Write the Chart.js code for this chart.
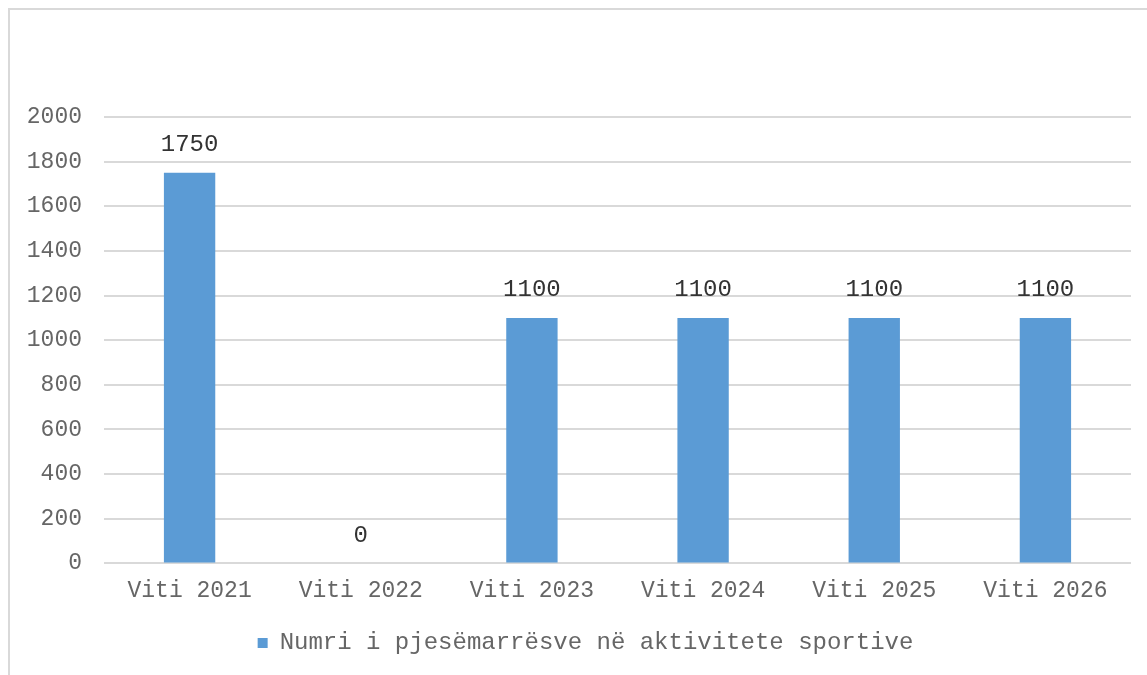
<!DOCTYPE html>
<html>
<head>
<meta charset="utf-8">
<script src="https://cdn.jsdelivr.net/npm/chart.js@4/dist/chart.umd.min.js"></script>
<style>
  html, body { margin: 0; padding: 0; background: #fff; overflow: hidden; }
  #frame { position: absolute; left: 8px; top: 8px; width: 1200px; height: 700px; border: 2px solid #d9d9d9; box-sizing: border-box; }
  #wrap { position: absolute; left: 0; top: 0; width: 1147px; height: 675px; }
</style>
</head>
<body>
<div id="frame"></div>
<div id="wrap"><canvas id="chart"></canvas></div>
<script>
// Data
const years = ["Viti 2021", "Viti 2022", "Viti 2023", "Viti 2024", "Viti 2025", "Viti 2026"];
const participants = [1750, 0, 1100, 1100, 1100, 1100];
const seriesName = "Numri i pjesëmarrësve në aktivitete sportive";

const FONT = "'Liberation Mono', 'Courier New', monospace";

// value labels above each bar
const valueLabels = {
    id: "valueLabels",
    afterDatasetsDraw(chart) {
        const ctx = chart.ctx;
        const meta = chart.getDatasetMeta(0);
        ctx.save();
        ctx.font = "24px " + FONT;
        ctx.fillStyle = "#333333";
        ctx.textAlign = "center";
        ctx.textBaseline = "middle";
        meta.data.forEach((bar, i) => {
            ctx.fillText(String(participants[i]), bar.x, bar.y - 28);
        });
        ctx.restore();
    }
};

// the original frame is wider than the window, so its legend sits a bit right of centre
const shiftLegend = {
    id: "shiftLegend",
    afterLayout(chart) {
        if (chart.legend) { chart.legend.left += 20; chart.legend.right += 20; }
    }
};

new Chart(document.getElementById("chart"), {
    type: "bar",
    data: {
        labels: years,
        datasets: [{
            label: seriesName,
            data: participants,
            backgroundColor: "#5b9bd5",
            borderWidth: 0,
            categoryPercentage: 1,
            barPercentage: 0.3
        }]
    },
    options: {
        responsive: true,
        maintainAspectRatio: false,
        animation: false,
        layout: { padding: { top: 117, right: 16, bottom: 10, left: 0 } },
        plugins: {
            tooltip: { enabled: false },
            legend: {
                position: "bottom",
                labels: {
                    font: { family: FONT, size: 24 },
                    color: "#666666",
                    boxWidth: 10,
                    boxHeight: 10,
                    padding: 20
                }
            }
        },
        scales: {
            x: {
                grid: { display: false },
                border: { display: false },
                ticks: { font: { family: FONT, size: 23 }, color: "#666666", padding: 6 }
            },
            y: {
                min: 0,
                max: 2000,
                afterFit(scale) { scale.width = 104; },
                grid: { color: "#d9d9d9", lineWidth: 2, drawTicks: false },
                border: { display: false },
                ticks: {
                    stepSize: 200,
                    callback: v => String(v),
                    font: { family: FONT, size: 23 },
                    color: "#666666",
                    padding: 22
                }
            }
        }
    },
    plugins: [valueLabels, shiftLegend]
});
</script>
</body>
</html>
